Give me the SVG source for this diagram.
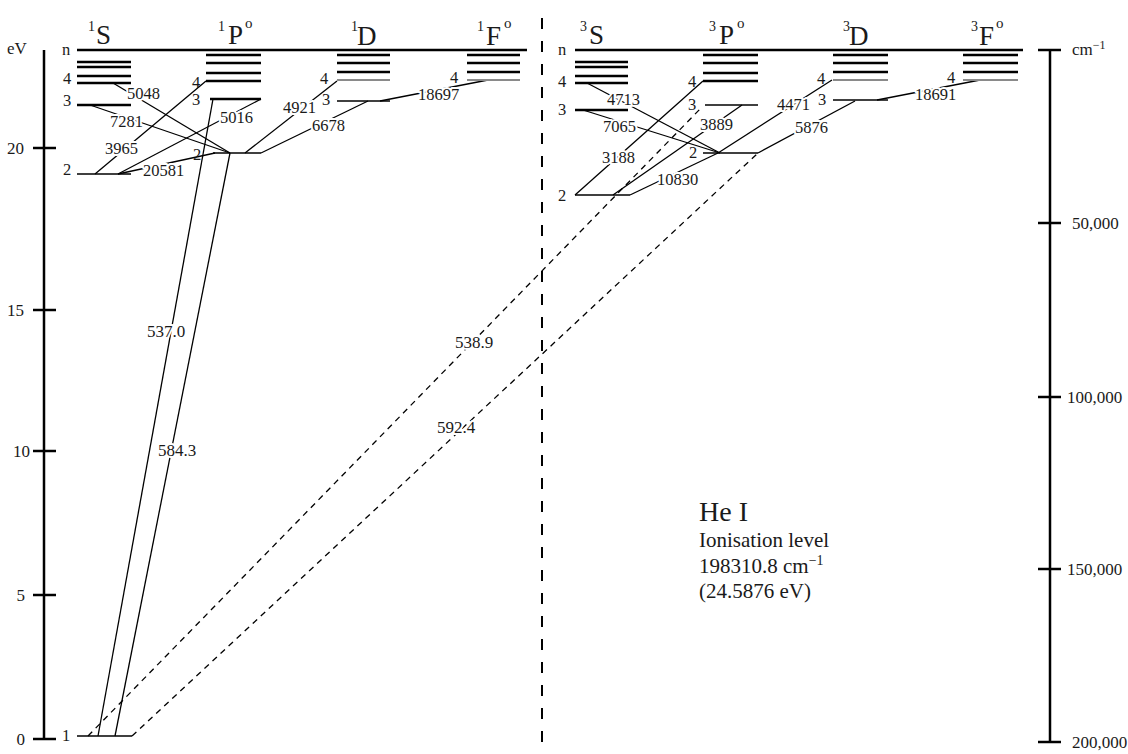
<svg xmlns="http://www.w3.org/2000/svg" width="1128" height="754" viewBox="0 0 1128 754">
<defs>
<style>
text{font-family:"Liberation Serif","Times New Roman",serif;fill:#1a1a1a}
.lv{stroke:#000;stroke-width:2.4}
.lvg{stroke:#8a8a8a;stroke-width:2}
.lvt{stroke:#000;stroke-width:1.6}
.tr{stroke:#000;stroke-width:1.3;fill:none}
.trd{stroke:#000;stroke-width:1.3;fill:none;stroke-dasharray:6 5}
.ax{stroke:#000;stroke-width:2.5}
.tl{font-size:16.5px;stroke:#fff;stroke-width:4;stroke-linejoin:round;paint-order:stroke}
.tlb{font-size:17px;stroke:#fff;stroke-width:4;stroke-linejoin:round;paint-order:stroke}
.ll{font-size:16.5px}
.ak{font-size:17px}
.tm{font-size:27px}
.sp{font-size:14px}
.so{font-size:15px}
.cap{font-size:21px}
</style>
</defs>
<rect width="1128" height="754" fill="#fff"/>

<!-- axes -->
<g id="axis-ev">
<line class="ax" x1="44" y1="50" x2="44" y2="740"/>
<line class="ax" x1="33" y1="148" x2="56" y2="148"/>
<line class="ax" x1="33" y1="310" x2="56" y2="310"/>
<line class="ax" x1="33" y1="451" x2="56" y2="451"/>
<line class="ax" x1="33" y1="595" x2="56" y2="595"/>
<line class="ax" x1="33" y1="739" x2="56" y2="739"/>
<text class="ak" x="7" y="54">eV</text>
<text class="ak" x="24" y="154" text-anchor="end">20</text>
<text class="ak" x="24" y="316" text-anchor="end">15</text>
<text class="ak" x="30" y="457" text-anchor="end">10</text>
<text class="ak" x="25" y="601" text-anchor="end">5</text>
<text class="ak" x="25" y="745" text-anchor="end">0</text>
</g>
<g id="axis-cm">
<line class="ax" x1="1050" y1="50" x2="1050" y2="742"/>
<line class="ax" x1="1038" y1="50" x2="1061" y2="50"/>
<line class="ax" x1="1038" y1="223" x2="1061" y2="223"/>
<line class="ax" x1="1038" y1="397" x2="1061" y2="397"/>
<line class="ax" x1="1038" y1="569" x2="1061" y2="569"/>
<line class="ax" x1="1038" y1="742" x2="1061" y2="742"/>
<text class="ak" x="1072" y="55">cm<tspan font-size="12" dy="-6">−1</tspan></text>
<text class="ak" x="1072" y="229">50,000</text>
<text class="ak" x="1067" y="403">100,000</text>
<text class="ak" x="1067" y="575">150,000</text>
<text class="ak" x="1072" y="748">200,000</text>
</g>
<g id="divider">
<line x1="542" y1="18" x2="542" y2="754" stroke="#000" stroke-width="2" stroke-dasharray="11 12"/>
</g>
<g id="ionisation-lines">
<line class="lv" x1="77" y1="50" x2="527" y2="50"/>
<line class="lv" x1="575" y1="50" x2="1023" y2="50"/>
</g>

<!-- connectors -->
<g id="connectors">
<line class="tr" x1="113" y1="83" x2="230" y2="153"/>
<line class="tr" x1="90" y1="105" x2="230" y2="153"/>
<line class="tr" x1="95" y1="174" x2="206" y2="81"/>
<line class="tr" x1="118" y1="174" x2="215" y2="153"/>
<line class="tr" x1="118" y1="174" x2="261" y2="99"/>
<line class="tr" x1="98" y1="736" x2="213" y2="99"/>
<line class="tr" x1="115" y1="736" x2="230" y2="153"/>
<line class="tr" x1="245" y1="153" x2="337" y2="81"/>
<line class="tr" x1="261" y1="153" x2="368" y2="101"/>
<line class="tr" x1="380" y1="101" x2="488" y2="80"/>
<line class="trd" x1="88" y1="736" x2="702" y2="107"/>
<line class="trd" x1="132" y1="736" x2="758" y2="153"/>
<line class="tr" x1="587" y1="83" x2="720" y2="153"/>
<line class="tr" x1="583" y1="110" x2="720" y2="153"/>
<line class="tr" x1="575" y1="195" x2="703" y2="81"/>
<line class="tr" x1="613" y1="195" x2="742" y2="105"/>
<line class="tr" x1="630" y1="195" x2="718" y2="153"/>
<line class="tr" x1="718" y1="153" x2="832" y2="80"/>
<line class="tr" x1="758" y1="153" x2="855" y2="101"/>
<line class="tr" x1="877" y1="100" x2="980" y2="80"/>
<text class="tl" x="127" y="99">5048</text>
<text class="tl" x="110" y="127">7281</text>
<text class="tl" x="105" y="154">3965</text>
<text class="tl" x="143" y="176">20581</text>
<text class="tl" x="220" y="123">5016</text>
<text class="tl" x="283" y="113">4921</text>
<text class="tl" x="312" y="131">6678</text>
<text class="tl" x="418" y="100">18697</text>
<text class="tlb" x="147" y="337">537.0</text>
<text class="tlb" x="158" y="456">584.3</text>
<text class="tlb" x="455" y="348">538.9</text>
<text class="tlb" x="437" y="433">592.4</text>
<text class="tl" x="607" y="105">4713</text>
<text class="tl" x="603" y="132">7065</text>
<text class="tl" x="602" y="163">3188</text>
<text class="tl" x="700" y="130">3889</text>
<text class="tl" x="657" y="185">10830</text>
<text class="tl" x="777" y="110">4471</text>
<text class="tl" x="795" y="133">5876</text>
<text class="tl" x="915" y="100">18691</text>
</g>

<!-- singlet terms -->
<g id="term-1S">
<text class="sp" x="88" y="31">1</text><text class="tm" x="96" y="44">S</text>
<line class="lv" x1="77" y1="62" x2="131" y2="62"/>
<line class="lv" x1="77" y1="67" x2="131" y2="67"/>
<line class="lv" x1="77" y1="76" x2="131" y2="76"/>
<line class="lv" x1="77" y1="83" x2="131" y2="83"/>
<line class="lv" x1="77" y1="105" x2="131" y2="105"/>
<line class="lvt" x1="77" y1="174" x2="131" y2="174"/>
<line class="lvt" x1="77" y1="736" x2="132" y2="736"/>
<text class="ll" x="62" y="55">n</text>
<text class="ll" x="63" y="84">4</text>
<text class="ll" x="63" y="106">3</text>
<text class="ll" x="63" y="175">2</text>
<text class="ll" x="62" y="741">1</text>
</g>
<g id="term-1P">
<text class="sp" x="218" y="31">1</text><text class="tm" x="228" y="44">P</text><text class="so" x="245" y="28">o</text>
<line class="lv" x1="206" y1="55" x2="261" y2="55"/>
<line class="lv" x1="206" y1="63" x2="261" y2="63"/>
<line class="lv" x1="206" y1="73" x2="261" y2="73"/>
<line class="lv" x1="206" y1="81" x2="261" y2="81"/>
<line class="lv" x1="210" y1="99" x2="261" y2="99"/>
<line class="lvt" x1="213" y1="153" x2="261" y2="153"/>
<text class="ll" x="192" y="88">4</text>
<text class="ll" x="192" y="105">3</text>
<text class="ll" x="193" y="160">2</text>
</g>
<g id="term-1D">
<text class="sp" x="351" y="31">1</text><text class="tm" x="357" y="45">D</text>
<line class="lv" x1="337" y1="55" x2="390" y2="55"/>
<line class="lv" x1="337" y1="63" x2="390" y2="63"/>
<line class="lv" x1="337" y1="72" x2="390" y2="72"/>
<line class="lvg" x1="337" y1="80" x2="390" y2="80"/>
<line class="lvt" x1="337" y1="101" x2="390" y2="101"/>
<text class="ll" x="320" y="84">4</text>
<text class="ll" x="322" y="105">3</text>
</g>
<g id="term-1F">
<text class="sp" x="477" y="31">1</text><text class="tm" x="486" y="45">F</text><text class="so" x="504" y="28">o</text>
<line class="lv" x1="467" y1="55" x2="520" y2="55"/>
<line class="lv" x1="467" y1="63" x2="520" y2="63"/>
<line class="lv" x1="467" y1="72" x2="520" y2="72"/>
<line class="lvg" x1="467" y1="80" x2="520" y2="80"/>
<text class="ll" x="450" y="83">4</text>
</g>

<!-- triplet terms -->
<g id="term-3S">
<text class="sp" x="580" y="31">3</text><text class="tm" x="589" y="44">S</text>
<line class="lv" x1="575" y1="62" x2="628" y2="62"/>
<line class="lv" x1="575" y1="67" x2="628" y2="67"/>
<line class="lv" x1="575" y1="76" x2="628" y2="76"/>
<line class="lv" x1="575" y1="83" x2="628" y2="83"/>
<line class="lv" x1="575" y1="110" x2="628" y2="110"/>
<line class="lvt" x1="575" y1="195" x2="630" y2="195"/>
<text class="ll" x="558" y="55">n</text>
<text class="ll" x="558" y="87">4</text>
<text class="ll" x="558" y="115">3</text>
<text class="ll" x="558" y="201">2</text>
</g>
<g id="term-3P">
<text class="sp" x="709" y="31">3</text><text class="tm" x="719" y="44">P</text><text class="so" x="737" y="28">o</text>
<line class="lv" x1="703" y1="55" x2="758" y2="55"/>
<line class="lv" x1="703" y1="63" x2="758" y2="63"/>
<line class="lv" x1="703" y1="73" x2="758" y2="73"/>
<line class="lv" x1="703" y1="81" x2="758" y2="81"/>
<line class="lvt" x1="705" y1="105" x2="758" y2="105"/>
<line class="lvt" x1="703" y1="153" x2="758" y2="153"/>
<text class="ll" x="688" y="87">4</text>
<text class="ll" x="688" y="110">3</text>
<text class="ll" x="689" y="158">2</text>
</g>
<g id="term-3D">
<text class="sp" x="843" y="31">3</text><text class="tm" x="849" y="45">D</text>
<line class="lv" x1="833" y1="55" x2="888" y2="55"/>
<line class="lv" x1="833" y1="63" x2="888" y2="63"/>
<line class="lv" x1="833" y1="72" x2="888" y2="72"/>
<line class="lvg" x1="833" y1="80" x2="888" y2="80"/>
<line class="lvt" x1="833" y1="100" x2="888" y2="100"/>
<text class="ll" x="817" y="84">4</text>
<text class="ll" x="818" y="105">3</text>
</g>
<g id="term-3F">
<text class="sp" x="971" y="31">3</text><text class="tm" x="979" y="45">F</text><text class="so" x="996" y="28">o</text>
<line class="lv" x1="963" y1="55" x2="1018" y2="55"/>
<line class="lv" x1="963" y1="63" x2="1018" y2="63"/>
<line class="lv" x1="963" y1="72" x2="1018" y2="72"/>
<line class="lvg" x1="963" y1="80" x2="1018" y2="80"/>
<text class="ll" x="947" y="83">4</text>
</g>

<g id="caption">
<text x="699" y="521" font-size="28">He I</text>
<text class="cap" x="699" y="547">Ionisation level</text>
<text class="cap" x="699" y="573">198310.8 cm<tspan font-size="14" dy="-8">−1</tspan></text>
<text class="cap" x="699" y="598">(24.5876 eV)</text>
</g>
</svg>
